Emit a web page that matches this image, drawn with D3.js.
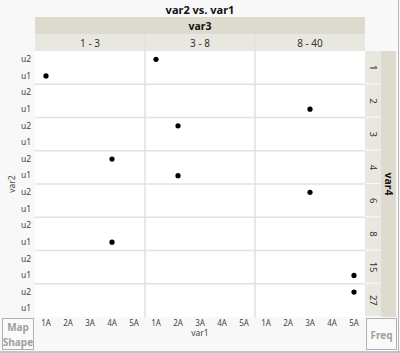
<!DOCTYPE html>
<html><head><meta charset="utf-8">
<script src="https://cdn.jsdelivr.net/npm/d3@7"></script>
<style>
html,body{margin:0;padding:0;background:#f8f8f8;}
svg{display:block;font-family:"Noto Sans","DejaVu Sans",sans-serif;}
</style></head>
<body>
<svg id="c" width="400" height="353"></svg>
<script>
// ---- data ----
const var3Cats = ["1 - 3", "3 - 8", "8 - 40"];
const var4Cats = ["1", "2", "3", "4", "6", "8", "15", "27"];
const var1Cats = ["1A", "2A", "3A", "4A", "5A"];
const var2Cats = ["u2", "u1"];
const ptVar1 = ["1A", "1A", "3A", "2A", "4A", "2A", "3A", "4A", "5A", "5A"];
const ptVar2 = ["u1", "u2", "u1", "u2", "u2", "u1", "u2", "u1", "u1", "u2"];
const ptVar3 = ["1 - 3", "3 - 8", "8 - 40", "3 - 8", "1 - 3", "3 - 8", "8 - 40", "1 - 3", "8 - 40", "8 - 40"];
const ptVar4 = ["1", "1", "2", "3", "4", "4", "6", "8", "15", "27"];

const svg = d3.select("#c");
const L = 35, R = 365, T = 51, B = 317;
const darkBand = "#dddbcd", lightBand = "#e9e8e0";

const colX = d3.scaleBand().domain(var3Cats).range([L, R]);
const rowY = d3.scaleBand().domain(var4Cats).range([T, B]);
const xIn = d3.scaleBand().domain(var1Cats).range([0, colX.bandwidth()]);
const yIn = d3.scaleBand().domain(var2Cats).range([0, rowY.bandwidth()]);

// title
svg.append("text").attr("x", 200).attr("y", 14).attr("text-anchor", "middle")
  .attr("font-size", 11).attr("font-weight", "bold").attr("fill", "#111").text("var2 vs. var1");

// var3 header
svg.append("rect").attr("x", L).attr("y", 17).attr("width", R - L).attr("height", 17).attr("fill", darkBand);
svg.append("text").attr("x", (L + R) / 2).attr("y", 29.5).attr("text-anchor", "middle")
  .attr("font-size", 10.5).attr("font-weight", "bold").attr("fill", "#111").text("var3");
svg.selectAll(".sub").data(var3Cats).join("rect")
  .attr("x", d => colX(d)).attr("y", 34).attr("width", colX.bandwidth()).attr("height", 17)
  .attr("fill", lightBand);
svg.selectAll(".subt").data(var3Cats).join("text")
  .attr("x", d => colX(d) + colX.bandwidth() / 2).attr("y", 46.5).attr("text-anchor", "middle")
  .attr("font-size", 10).attr("fill", "#333").text(d => d);

// panel background
svg.append("rect").attr("x", L).attr("y", T).attr("width", R - L).attr("height", B - T).attr("fill", "#fff");

// grid separators
svg.selectAll(".vl").data(var3Cats.slice(1)).join("line")
  .attr("x1", d => colX(d)).attr("x2", d => colX(d)).attr("y1", 34).attr("y2", B)
  .attr("stroke", "#e2e2e2").attr("stroke-width", 1.5);
svg.selectAll(".hl").data(var4Cats.slice(1)).join("line")
  .attr("x1", L).attr("x2", R).attr("y1", d => rowY(d)).attr("y2", d => rowY(d))
  .attr("stroke", "#e2e2e2").attr("stroke-width", 1.5);

// right strips
svg.selectAll(".rl").data(var4Cats).join("rect")
  .attr("x", R).attr("y", d => rowY(d)).attr("width", 16).attr("height", rowY.bandwidth() - 1)
  .attr("fill", lightBand);
svg.selectAll(".rlt").data(var4Cats).join("text")
  .attr("transform", d => `translate(${R + 5},${rowY(d) + rowY.bandwidth() / 2}) rotate(90)`)
  .attr("text-anchor", "middle").attr("font-size", 9.5).attr("fill", "#333").text(d => d);
svg.append("rect").attr("x", R + 16).attr("y", T).attr("width", 15).attr("height", B - T).attr("fill", darkBand);
svg.append("text").attr("transform", `translate(${R + 19.5},${(T + B) / 2}) rotate(90)`)
  .attr("text-anchor", "middle").attr("font-size", 10.5).attr("font-weight", "bold").attr("fill", "#111").text("var4");
svg.append("line").attr("x1", 398.5).attr("x2", 398.5).attr("y1", 0).attr("y2", 353).attr("stroke", "#b8b8b8");

// y axis labels
var4Cats.forEach(r => {
  const g = svg.append("g").attr("transform", `translate(${L},${rowY(r)})`);
  g.call(d3.axisLeft(yIn).tickSize(0).tickPadding(4))
    .call(a => a.select(".domain").remove())
    .selectAll("text").attr("font-size", 8.5).attr("fill", "#444").attr("font-family", "Noto Sans, DejaVu Sans, sans-serif");
});
svg.append("text").attr("transform", `translate(15,184) rotate(-90)`)
  .attr("text-anchor", "middle").attr("font-size", 8.5).attr("fill", "#444").text("var2");

// x axis labels
var3Cats.forEach(c => {
  const g = svg.append("g").attr("transform", `translate(${colX(c)},${B})`);
  g.call(d3.axisBottom(xIn).tickSize(0).tickPadding(3))
    .call(a => a.select(".domain").remove())
    .selectAll("text").attr("font-size", 8).attr("fill", "#444").attr("font-family", "Noto Sans, DejaVu Sans, sans-serif");
});
svg.append("text").attr("x", 200).attr("y", 336).attr("text-anchor", "middle")
  .attr("font-size", 8.5).attr("fill", "#444").text("var1");

// points
svg.selectAll(".pt").data(ptVar1.map((v, i) => i)).join("circle")
  .attr("cx", i => colX(ptVar3[i]) + xIn(ptVar1[i]) + xIn.bandwidth() / 2)
  .attr("cy", i => rowY(ptVar4[i]) + yIn(ptVar2[i]) + yIn.bandwidth() / 2)
  .attr("r", 2.6).attr("fill", "#000");

// Map Shape / Freq boxes
svg.append("rect").attr("x", 2.5).attr("y", 318.5).attr("width", 31).attr("height", 31)
  .attr("fill", "#fafafa").attr("stroke", "#b0b0b0");
svg.append("text").attr("x", 18).attr("y", 331).attr("text-anchor", "middle").attr("font-size", 10)
  .attr("font-weight", "bold").attr("fill", "#a0a0a0").text("Map");
svg.append("text").attr("x", 18).attr("y", 346).attr("text-anchor", "middle").attr("font-size", 10)
  .attr("font-weight", "bold").attr("fill", "#a0a0a0").text("Shape");
svg.append("rect").attr("x", 366.5).attr("y", 318.5).attr("width", 30).attr("height", 31)
  .attr("fill", "#fafafa").attr("stroke", "#b0b0b0");
svg.append("text").attr("x", 381.5).attr("y", 339).attr("text-anchor", "middle").attr("font-size", 10)
  .attr("font-weight", "bold").attr("fill", "#a0a0a0").text("Freq");
svg.append("line").attr("x1", 0).attr("x2", 400).attr("y1", 352).attr("y2", 352).attr("stroke", "#a8b4cc").attr("stroke-width", 1.5);
</script>
</body></html>
